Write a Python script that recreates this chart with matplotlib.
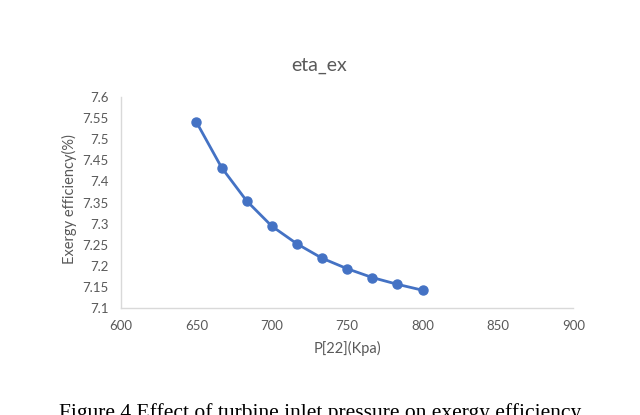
"""
Exergy efficiency against P[22], redrawn from an Excel chart.
"""
import matplotlib
matplotlib.use("Agg")
import matplotlib.pyplot as plt

# values
pressure = [650, 666.7, 683.3, 700, 716.7, 733.3, 750, 766.7, 783.3, 800]
eta_ex = [7.541, 7.433, 7.354, 7.294, 7.252, 7.218, 7.193, 7.172, 7.156, 7.142]
x_ticks = [600, 650, 700, 750, 800, 850, 900]
y_ticks = [7.1, 7.15, 7.2, 7.25, 7.3, 7.35, 7.4, 7.45, 7.5, 7.55, 7.6]
y_tick_labels = ["7.1", "7.15", "7.2", "7.25", "7.3", "7.35", "7.4", "7.45", "7.5", "7.55", "7.6"]

blue = "#4472c4"
grey_text = "#595959"
axis_grey = "#d9d9d9"

plt.rcParams["font.family"] = ["Lato", "DejaVu Sans"]

fig = plt.figure(figsize=(6.4, 4.15), dpi=100)
ax = fig.add_axes([0.189, 0.258, 0.707, 0.508])

ax.plot(pressure, eta_ex, color=blue, linewidth=2.0, marker="o",
        markersize=6.5, markerfacecolor=blue, markeredgecolor=blue)

ax.set_xlim(600, 900)
ax.set_ylim(7.1, 7.6)
ax.set_xticks(x_ticks)
ax.set_yticks(y_ticks)
ax.set_yticklabels(y_tick_labels)
ax.tick_params(length=0, labelsize=9.5, labelcolor=grey_text, pad=9)

for side in ("top", "right"):
    ax.spines[side].set_visible(False)
for side in ("left", "bottom"):
    ax.spines[side].set_color(axis_grey)
    ax.spines[side].set_linewidth(1.0)

fig.text(0.499, 0.843, "eta_ex", ha="center", va="center",
         fontsize=14, color=grey_text)
fig.text(0.543, 0.160, "P[22](Kpa)", ha="center", va="center",
         fontsize=10.5, color=grey_text)
fig.text(0.109, 0.52, "Exergy efficiency(%)", ha="center", va="center",
         rotation=90, fontsize=10.5, color=grey_text)

# figure caption, cut off by the bottom edge in the source
fig.text(0.5, 0.028, "Figure 4 Effect of turbine inlet pressure on exergy efficiency",
         ha="center", va="top", fontsize=15.5, color="black",
         family=["Liberation Serif", "DejaVu Serif"])

fig.savefig("out.png", dpi=100)
